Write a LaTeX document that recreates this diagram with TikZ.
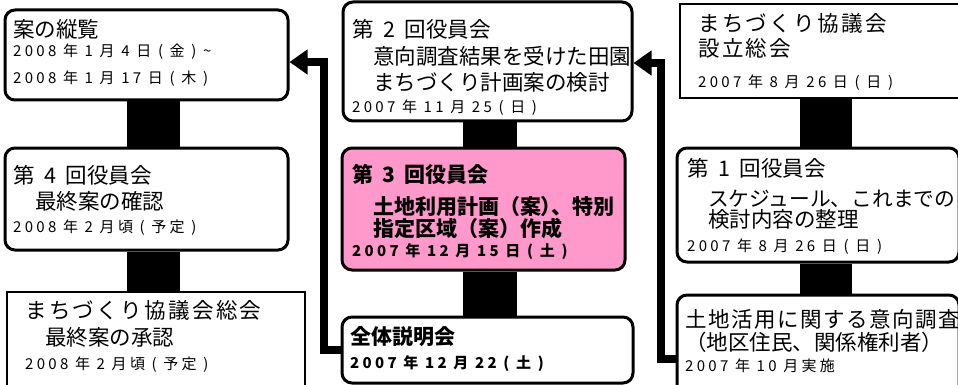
\documentclass[tikz,border=0pt]{standalone}
\usepackage{fontspec}
\setmainfont{Noto Sans CJK JP}
\newfontfamily\jpdate[LetterSpace=22]{Noto Sans CJK JP}
\usetikzlibrary{arrows.meta,backgrounds,calc}
\definecolor{pinkfill}{RGB}{255,153,204}
\newcommand{\gp}{\hspace{0.45em}}
\tikzset{
  rbox/.style={draw, line width=3pt, rounded corners=10pt, fill=white, inner sep=0pt},
  sbox/.style={draw, line width=1.5pt, fill=white, inner sep=0pt},
  bar/.style={line width=#1, draw=black},
  flow/.style={line width=8pt, -{Triangle[length=18pt,width=24pt]}},
  tt/.style={anchor=base west, inner sep=0pt, font=\fontsize{21.5}{21.5}\selectfont},
  tw/.style={anchor=base west, inner sep=0pt, font=\addfontfeature{LetterSpace=11}\fontsize{21.5}{21.5}\selectfont},
  tb/.style={anchor=base west, inner sep=0pt, font=\bfseries\fontsize{21}{21}\selectfont},
  dd/.style={anchor=base west, inner sep=0pt, font=\jpdate\fontsize{15}{15}\selectfont},
  db/.style={anchor=base west, inner sep=0pt, font=\jpdate\bfseries\fontsize{15}{15}\selectfont},
}
\begin{document}
\begin{tikzpicture}[x=1pt,y=-1pt]
\useasboundingbox (0,0) rectangle (958,385);
\clip (0,0) rectangle (958,385);
% boxes
\node[rbox, minimum width=283pt, minimum height=90pt] (A) at (146.5,55) {};
\node[rbox, minimum width=283pt, minimum height=102pt] (B) at (146.5,199) {};
\node[sbox, minimum width=298pt, minimum height=118pt] (C) at (156,351) {};
\node[rbox, minimum width=289pt, minimum height=119pt] (D) at (487.5,61.5) {};
\node[rbox, fill=pinkfill, minimum width=283pt, minimum height=122pt] (E) at (483.5,209) {};
\node[rbox, minimum width=291pt, minimum height=66pt] (F) at (487.5,350) {};
\node[sbox, minimum width=295pt, minimum height=94pt] (G) at (827.5,51) {};
\node[rbox, minimum width=282pt, minimum height=114pt] (H) at (818,205) {};
\node[rbox, minimum width=282pt, minimum height=115pt] (I) at (818,352.5) {};
% bars
\coordinate (lx) at (153.5,0);
\coordinate (mx) at (490,0);
\coordinate (rx) at (826,0);
\begin{scope}[on background layer]
\draw[bar=53pt] (A.south -| lx) -- (B.north -| lx);
\draw[bar=53pt] (B.south -| lx) -- (C.north -| lx);
\draw[bar=54pt] (D.south -| mx) -- (E.north -| mx);
\draw[bar=54pt] (E.south -| mx) -- (F.north -| mx);
\draw[bar=52pt] (G.south -| rx) -- (H.north -| rx);
\draw[bar=52pt] (H.south -| rx) -- (I.north -| rx);
\end{scope}
% arrows
\draw[flow] ($(I.west)+(0,6.5)$) -- ++(-15,0) |- ($(D.east)+(0,1.5)$);
\draw[flow] (F.west) -- ++(-17,0) |- ($(A.east)+(0,7)$);
% texts A
\node[tt] (a1) at (13,38) {案の縦覧};
\node[dd] (a2) at (13,57) {2008 年 1 月 4 日 ( 金 ) \textasciitilde};
\node[dd] (a3) at (13,84) {2008 年 1 月 17 日 ( 木 )};
% B
\node[tt] (b1) at (13,183) {第\gp 4\gp 回役員会};
\node[tt] (b2) at (35,209) {最終案の確認};
\node[dd] (b3) at (13,232) {2008 年 2 月頃 ( 予定 )};
% C
\node[tw] (c1) at (25,318.5) {まちづくり協議会総会};
\node[tt] (c2) at (45,345) {最終案の承認};
\node[dd] (c3) at (25,369) {2008 年 2 月頃 ( 予定 )};
% D
\node[tt] (d1) at (352,38) {第\gp 2\gp 回役員会};
\node[tt] (d2) at (373,65) {意向調査結果を受けた田園};
\node[tt] (d3) at (373,91) {まちづくり計画案の検討};
\node[dd] (d4) at (352,113) {2007 年 11 月 25 ( 日 )};
% E
\node[tb] (e1) at (352,182.5) {第\gp 3\gp 回役員会};
\node[tb] (e2) at (373,214) {土地利用計画（案{\addfontfeature{RawFeature=+palt}）}、特別};
\node[tb] (e3) at (373,236) {指定区域（案）作成};
\node[db] (e4) at (352,256) {2007 年 12 月 15 日 ( 土 )};
% F
\node[tb] (f1) at (350,344) {全体説明会};
\node[db] (f2) at (350,368) {2007 年 12 月 22 ( 土 )};
% G
\node[tw] (g1) at (698,31.5) {まちづくり協議会};
\node[tw] (g2) at (698,56.5) {設立総会};
\node[dd] (g3) at (698,88) {2007 年 8 月 26 日 ( 日 )};
% H
\node[tt] (h1) at (687,176.5) {第\gp 1\gp 回役員会};
\node[tt, font=\fontsize{20.7}{20.7}\selectfont] (h2) at (708,206) {スケジュール、これまでの};
\node[tt] (h3) at (708,227.5) {検討内容の整理};
\node[dd] (h4) at (687,251) {2007 年 8 月 26 日 ( 日 )};
% I
\node[tt, font=\addfontfeature{LetterSpace=7}\fontsize{21.5}{21.5}\selectfont] (i1) at (685,327) {土地活用に関する意向調査};
\node[tt] (i2) at (685,350) {（地区住民、関係権利者）};
\node[dd] (i3) at (685,371) {2007 年 10 月実施};
\end{tikzpicture}
\end{document}
